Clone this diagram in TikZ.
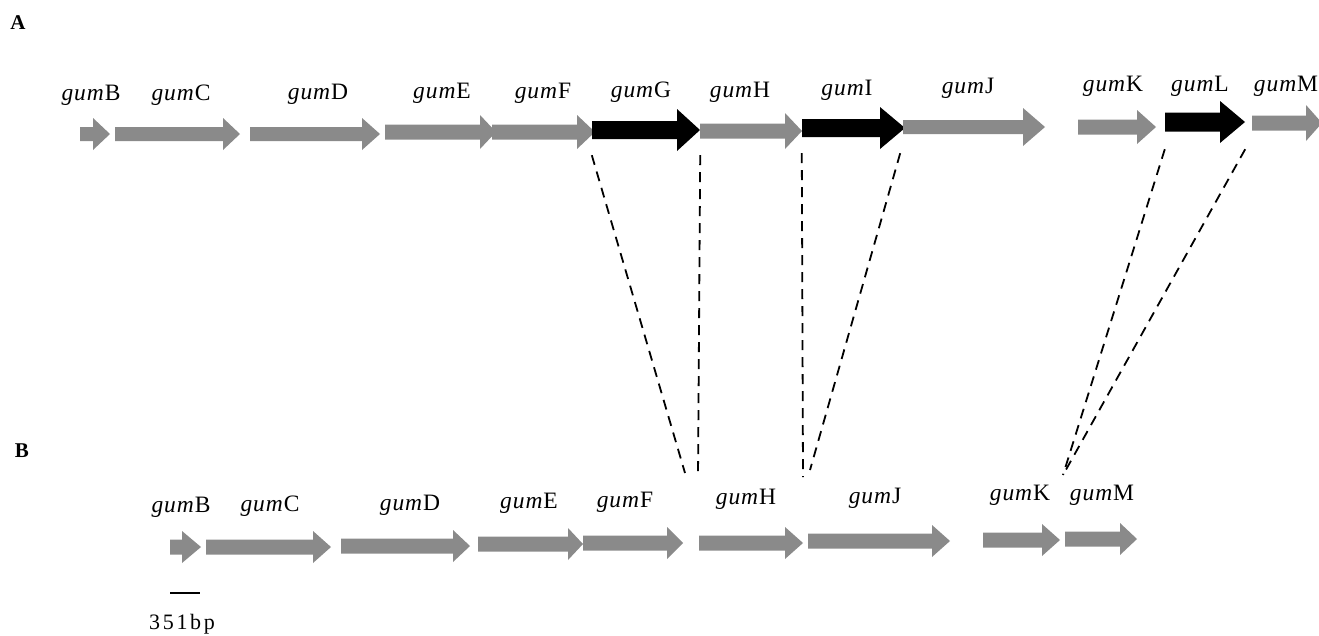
\documentclass[tikz,border=0pt]{standalone}
\usepackage{fontspec}
\setmainfont{Liberation Serif}
\newfontfamily\labfont[LetterSpace=4]{Liberation Serif}
\definecolor{genegray}{RGB}{138,138,138}
\tikzset{
  lab/.style={font=\labfont\fontsize{23.5}{25}\selectfont, inner sep=0pt, anchor=center},
  panel/.style={font=\bfseries\fontsize{21}{23}\selectfont, inner sep=0pt},
  link/.style={draw=black, line width=1.8pt, dash pattern=on 10pt off 7pt},
  gg/.style={fill=genegray},
  gb/.style={fill=black}
}
% #1 name, #2 x1, #3 x2, #4 head length, #5 y, #6 shaft half, #7 head half, #8 style
\newcommand\genearrow[8]{%
  \node[inner sep=0pt, minimum width={(#3-#2)*1pt}, minimum height={2*#7*1pt}] (#1) at ({(#2+#3)/2},#5) {};
  \fill[#8] (#2,{#5-#6}) -- ({#3-#4},{#5-#6}) -- ({#3-#4},{#5-#7}) -- (#3,#5)
    -- ({#3-#4},{#5+#7}) -- ({#3-#4},{#5+#6}) -- (#2,{#5+#6}) -- cycle;
}
\begin{document}
\begin{tikzpicture}[x=1pt,y=-1pt]
\useasboundingbox (0,0) rectangle (1319,635);
% panel letters
\node[panel] (pA) at (18,23) {A};
\node[panel] (pB) at (22,451) {B};
% ---- top row (A)
\genearrow{tB}{80}{110}{17}{134}{7}{16}{gg}
\genearrow{tC}{115}{240}{17}{134}{7}{16}{gg}
\genearrow{tD}{250}{380}{18}{134}{7}{16}{gg}
\genearrow{tE}{385}{496}{16}{132}{7.5}{17}{gg}
\genearrow{tF}{492}{595}{18}{132}{7.5}{17}{gg}
\genearrow{tG}{592}{700}{23}{130}{9}{21}{gb}
\genearrow{tH}{700}{802}{17}{131}{7.5}{18}{gg}
\genearrow{tI}{802}{905}{25}{128}{9}{21}{gb}
\genearrow{tJ}{903}{1045}{22}{127}{7}{19}{gg}
\genearrow{tK}{1078}{1156}{19}{127}{7.5}{17}{gg}
\genearrow{tL}{1165}{1245}{25}{122}{9.5}{21}{gb}
\genearrow{tM}{1252}{1322}{16}{123}{7.5}{18}{gg}
\node[lab] (ltB) at (91,95) {\textit{gum}B};
\node[lab] (ltC) at (181,95) {\textit{gum}C};
\node[lab] (ltD) at (318,94) {\textit{gum}D};
\node[lab] (ltE) at (442,93) {\textit{gum}E};
\node[lab] (ltF) at (543,93) {\textit{gum}F};
\node[lab] (ltG) at (641,92) {\textit{gum}G};
\node[lab] (ltH) at (740,92) {\textit{gum}H};
\node[lab] (ltI) at (847,90) {\textit{gum}I};
\node[lab] (ltJ) at (968,88) {\textit{gum}J};
\node[lab] (ltK) at (1113,86) {\textit{gum}K};
\node[lab] (ltL) at (1200,86) {\textit{gum}L};
\node[lab] (ltM) at (1286,86) {\textit{gum}M};
% ---- bottom row (B)
\genearrow{bB}{170}{201}{19}{547}{7.5}{16}{gg}
\genearrow{bC}{206}{331}{18}{547}{7.5}{16}{gg}
\genearrow{bD}{341}{470}{17}{546}{7.5}{16}{gg}
\genearrow{bE}{478}{583}{15}{544}{7.5}{16}{gg}
\genearrow{bF}{583}{683}{16}{543}{7.5}{16}{gg}
\genearrow{bH}{699}{803}{18}{543}{7.5}{16}{gg}
\genearrow{bJ}{808}{950}{18}{541}{7.5}{16}{gg}
\genearrow{bK}{983}{1060}{18}{540}{7.5}{16}{gg}
\genearrow{bM}{1065}{1137}{17}{539}{7.5}{16}{gg}
\node[lab] (lbB) at (181,507) {\textit{gum}B};
\node[lab] (lbC) at (270,506) {\textit{gum}C};
\node[lab] (lbD) at (410,505) {\textit{gum}D};
\node[lab] (lbE) at (529,503) {\textit{gum}E};
\node[lab] (lbF) at (625,502) {\textit{gum}F};
\node[lab] (lbH) at (746,499) {\textit{gum}H};
\node[lab] (lbJ) at (875,498) {\textit{gum}J};
\node[lab] (lbK) at (1020,495) {\textit{gum}K};
\node[lab] (lbM) at (1102,495) {\textit{gum}M};
% scale bar
\coordinate (s1) at (170,593);
\coordinate (s2) at (200,593);
\draw[line width=1.8pt] (s1) -- (s2);
\node[font=\addfontfeature{LetterSpace=12}\fontsize{22}{24}\selectfont, inner sep=0pt] (scale) at (182,624) {351bp};
% dashed links
\coordinate (e1) at (685,473);
\coordinate (e2) at (698,477);
\coordinate (e3) at (803,477);
\coordinate (e4) at (810,470);
\coordinate (e5) at (1063,475);
\draw[link] ([yshift=-4pt]tG.south west) -- (e1);
\draw[link] ([yshift=-4pt]tG.south east) -- (e2);
\draw[link] ([yshift=-4pt]tI.south west) -- (e3);
\draw[link] ([xshift=-5pt,yshift=-4pt]tI.south east) -- (e4);
\draw[link] ([yshift=-6pt]tL.south west) -- (e5);
\draw[link] ([yshift=-6pt]tL.south east) -- (e5);
\end{tikzpicture}
\end{document}
